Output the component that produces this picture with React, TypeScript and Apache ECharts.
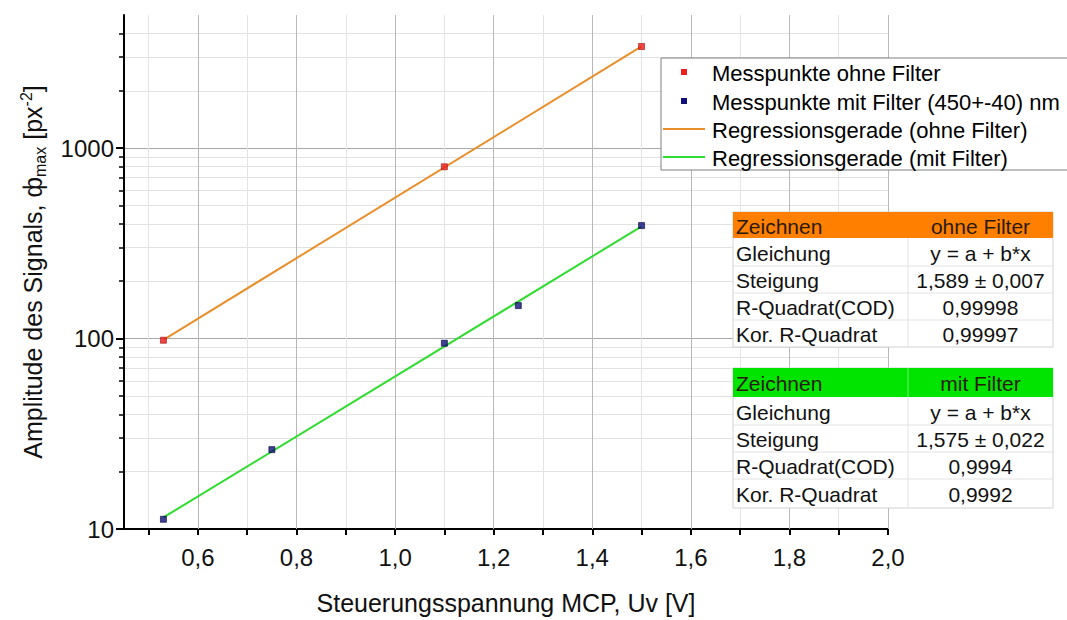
import { useEffect, useRef } from "react";
import * as echarts from "echarts";

const FONT = "'Liberation Sans', Arial, sans-serif";

// x axis: tick marks every 0.1, labels and darker grid every 0.2
const xMin = 0.45;
const xMax = 2.0;
const xTickValues = [0.5, 0.6, 0.7, 0.8, 0.9, 1.0, 1.1, 1.2, 1.3, 1.4, 1.5, 1.6, 1.7, 1.8, 1.9, 2.0];
const xLabelValues = [0.6, 0.8, 1.0, 1.2, 1.4, 1.6, 1.8, 2.0];

// y axis (logarithmic)
const yMin = 10;
const yMax = 5000;
const yLabelValues = [10, 100, 1000];

// measurements [U_v in V, amplitude]
const pointsOhneFilter = [
  [0.53, 98],
  [1.1, 798],
  [1.5, 3415],
];
const pointsMitFilter = [
  [0.53, 11.25],
  [0.75, 26.1],
  [1.1, 94.5],
  [1.25, 149],
  [1.5, 392],
];

// regression lines (end points)
const fitOhneFilter = [
  [0.53, 98.5],
  [1.5, 3420],
];
const fitMitFilter = [
  [0.53, 11.5],
  [1.5, 388],
];

const seriesNames = [
  "Messpunkte ohne Filter",
  "Messpunkte mit Filter (450+-40) nm",
  "Regressionsgerade (ohne Filter)",
  "Regressionsgerade (mit Filter)",
];
const seriesColors = ["#ee1c1c", "#10107a", "#e88f2c", "#2fdc2f"];

// fit result tables
const tableRowLabels = ["Gleichung", "Steigung", "R-Quadrat(COD)", "Kor. R-Quadrat"];
const ohneFilterValues = ["y = a + b*x", "1,589 ± 0,007", "0,99998", "0,99997"];
const mitFilterValues = ["y = a + b*x", "1,575 ± 0,022", "0,9994", "0,9992"];

const fmtComma = (v: number) => v.toFixed(1).replace(".", ",");

const Z_TOP = 100;

function textEl(x: number, y: number, text: string, align: string, size: number, color: string) {
  return {
    type: "text",
    x,
    y,
    z: Z_TOP + 2,
    style: {
      text,
      fill: color,
      fontSize: size,
      fontFamily: FONT,
      align,
      verticalAlign: "middle",
      textAlign: align,
      textVerticalAlign: "middle",
    },
  };
}

function buildTable(
  top: number,
  headerH: number,
  rowH: number[],
  headerColor: string,
  headerDivider: string,
  headerLabel: string,
  values: string[]
) {
  const left = 733;
  const width = 320;
  const colX = 175;
  const total = headerH + rowH.reduce((a, b) => a + b, 0);
  const children: any[] = [];
  children.push({
    type: "rect",
    z: Z_TOP,
    shape: { x: 0, y: 0, width, height: total },
    style: { fill: "#ffffff", stroke: "#d2d2d2", lineWidth: 1 },
  });
  children.push({
    type: "rect",
    z: Z_TOP + 1,
    shape: { x: 0, y: 0, width, height: headerH },
    style: { fill: headerColor },
  });
  children.push({
    type: "line",
    z: Z_TOP + 1,
    shape: { x1: colX, y1: 0, x2: colX, y2: headerH },
    style: { stroke: headerDivider, lineWidth: 1 },
  });
  children.push({
    type: "line",
    z: Z_TOP + 1,
    shape: { x1: colX, y1: headerH, x2: colX, y2: total },
    style: { stroke: "#e2e2e2", lineWidth: 1 },
  });
  children.push(textEl(3, headerH / 2 + 1, "Zeichnen", "left", 21, "#2a1a0a"));
  children.push(textEl((colX + width) / 2, headerH / 2 + 1, headerLabel, "center", 21, "#2a1a0a"));
  let y = headerH;
  tableRowLabels.forEach((label, i) => {
    const h = rowH[i];
    if (i > 0) {
      children.push({
        type: "line",
        z: Z_TOP + 1,
        shape: { x1: 0, y1: y, x2: width, y2: y },
        style: { stroke: "#e2e2e2", lineWidth: 1 },
      });
    }
    children.push(textEl(3, y + h / 2 + 1, label, "left", 21, "#111111"));
    children.push(textEl((colX + width) / 2, y + h / 2 + 1, values[i], "center", 21, "#111111"));
    y += h;
  });
  return { type: "group", x: left, y: top, z: Z_TOP, children };
}

// legend box: two marker rows followed by two line rows
function buildLegend() {
  const rowY = [14, 43, 71, 99];
  const children: any[] = [
    {
      type: "rect",
      z: Z_TOP,
      shape: { x: 0, y: 0, width: 430, height: 112 },
      style: { fill: "#ffffff", stroke: "#808080", lineWidth: 1 },
    },
  ];
  seriesNames.forEach((name, i) => {
    const cy = rowY[i];
    if (i < 2) {
      children.push({
        type: "rect",
        z: Z_TOP + 1,
        shape: { x: 20, y: cy - 3, width: 6, height: 6 },
        style: { fill: seriesColors[i] },
      });
    } else {
      children.push({
        type: "line",
        z: Z_TOP + 1,
        shape: { x1: 2, y1: cy, x2: 44, y2: cy },
        style: { stroke: seriesColors[i], lineWidth: 2 },
      });
    }
    children.push(textEl(51, cy + 1, name, "left", 22, "#000000"));
  });
  return { type: "group", x: 661, y: 58, z: Z_TOP, children };
}

export default function App() {
  const ref = useRef<HTMLDivElement>(null);

  useEffect(() => {
    document.body.style.margin = "0";
    const chart = echarts.init(ref.current!, null, { renderer: "svg" });

    const axisText = { fontSize: 25, color: "#111", fontFamily: FONT };

    const option: any = {
      animation: false,
      backgroundColor: "#ffffff",
      grid: { left: 124, right: 179, top: 15, bottom: 90 },
      xAxis: [
        {
          type: "value",
          min: xMin,
          max: xMax,
          position: "bottom",
          axisLine: { show: true, onZero: false, lineStyle: { color: "#000", width: 2 } },
          axisTick: {
            show: true,
            inside: false,
            length: 6,
            customValues: xTickValues,
            lineStyle: { color: "#000", width: 2 },
          },
          axisLabel: {
            ...axisText,
            fontSize: 24,
            margin: 16,
            customValues: xLabelValues,
            formatter: (v: number) => fmtComma(v),
          },
          splitLine: { show: true, lineStyle: { color: "#e4e4e4", width: 1 } },
          name: "Steuerungsspannung MCP, Uv [V]",
          nameLocation: "middle",
          nameGap: 61,
          nameTextStyle: { ...axisText },
        },
        {
          type: "value",
          min: xMin,
          max: xMax,
          z: 1,
          axisLine: { show: false },
          axisTick: { show: false, customValues: xLabelValues },
          axisLabel: { show: false, customValues: xLabelValues },
          splitLine: { show: true, lineStyle: { color: "#b8b8b8", width: 1 } },
        },
      ],
      yAxis: {
        type: "log",
        logBase: 10,
        min: yMin,
        max: yMax,
        axisLine: { show: true, lineStyle: { color: "#000", width: 2 } },
        axisTick: {
          show: true,
          inside: false,
          length: 8,
          customValues: yLabelValues,
          lineStyle: { color: "#000", width: 2 },
        },
        minorTick: { show: true, splitNumber: 9, length: 5, lineStyle: { color: "#000", width: 1.5 } },
        axisLabel: {
          ...axisText,
          fontSize: 24,
          margin: 10,
          customValues: yLabelValues,
          formatter: (v: number) => String(Math.round(v)),
        },
        splitLine: { show: true, lineStyle: { color: "#a8a8a8", width: 1 } },
        minorSplitLine: { show: true, lineStyle: { color: "#e2e2e2", width: 1 } },
        name: "Amplitude des Signals, ф{sub|max} [px{sup|-2}]",
        nameLocation: "middle",
        nameRotate: 90,
        nameGap: 76,
        nameTextStyle: {
          ...axisText,
          lineHeight: 30,
          rich: {
            sub: { fontSize: 16, lineHeight: 16, verticalAlign: "bottom", fontFamily: FONT, color: "#111" },
            sup: { fontSize: 16, lineHeight: 16, verticalAlign: "top", fontFamily: FONT, color: "#111" },
          },
        },
      },
      series: [
        {
          name: seriesNames[0],
          type: "scatter",
          data: pointsOhneFilter,
          symbol: "rect",
          symbolSize: 6,
          itemStyle: { color: seriesColors[0], borderColor: "#a01010", borderWidth: 0.8 },
          z: 4,
        },
        {
          name: seriesNames[1],
          type: "scatter",
          data: pointsMitFilter,
          symbol: "rect",
          symbolSize: 6,
          itemStyle: { color: seriesColors[1], borderColor: "#05053a", borderWidth: 0.8 },
          z: 4,
        },
        {
          name: seriesNames[2],
          type: "line",
          data: fitOhneFilter,
          symbol: "none",
          lineStyle: { color: seriesColors[2], width: 2 },
          z: 3,
        },
        {
          name: seriesNames[3],
          type: "line",
          data: fitMitFilter,
          symbol: "none",
          lineStyle: { color: seriesColors[3], width: 2 },
          z: 3,
        },
      ],
      graphic: [
        buildLegend(),
        buildTable(212, 26, [28, 27, 27, 27], "#ff8000", "#ff8000", "ohne Filter", ohneFilterValues),
        buildTable(368, 29, [28, 27, 27, 29], "#00e400", "#6cf06c", "mit Filter", mitFilterValues),
      ],
    };

    chart.setOption(option);
    return () => chart.dispose();
  }, []);

  return <div ref={ref} style={{ width: 1067, height: 620, background: "#fff" }} />;
}
